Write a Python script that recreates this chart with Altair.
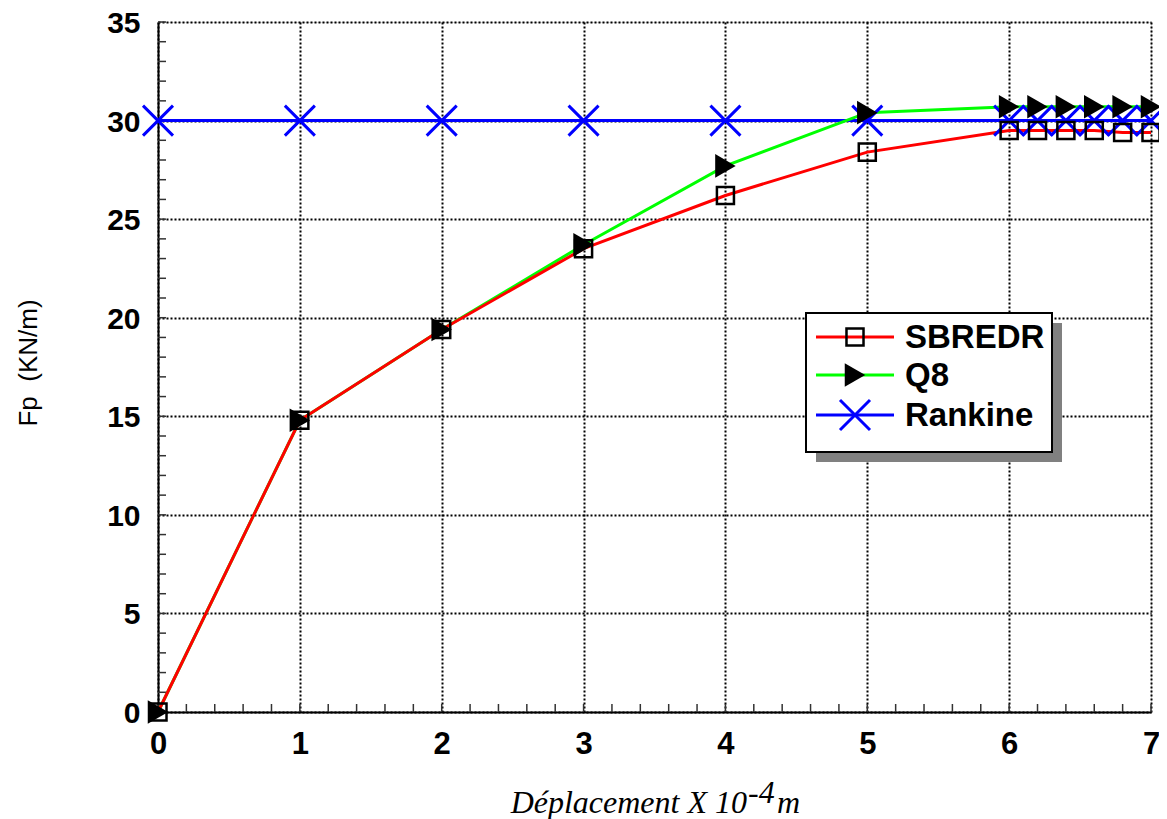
import altair as alt
import pandas as pd

# ---- data ----
deplacement = [0, 1, 2, 3, 4, 5, 6, 6.2, 6.4, 6.6, 6.8, 7]
sbredr = [0, 14.8, 19.4, 23.5, 26.2, 28.4, 29.5, 29.5, 29.5, 29.5, 29.4, 29.4]
q8 = [0, 14.8, 19.4, 23.7, 27.7, 30.4, 30.7, 30.7, 30.7, 30.7, 30.7, 30.7]
rankine = [30, 30, 30, 30, 30, 30, 30, 30, 30, 30, 30, 30]
series_names = ["SBREDR", "Q8", "Rankine"]
x_ticks = [0, 1, 2, 3, 4, 5, 6, 7]
y_ticks = [0, 5, 10, 15, 20, 25, 30, 35]
x_minor = [i / 5 for i in range(0, 36)]
y_minor = list(range(0, 36))

W, H = 993, 690

df_s = pd.DataFrame({"x": deplacement, "y": sbredr})
df_q = pd.DataFrame({"x": deplacement, "y": q8})
df_r = pd.DataFrame({"x": deplacement, "y": rankine})

lab_font = "Liberation Sans"

x_enc = alt.X("x:Q", scale=alt.Scale(domain=[0, 7], nice=False, zero=False),
              axis=alt.Axis(values=x_ticks, title=None, grid=True, ticks=False,
                            labelFont=lab_font, labelFontSize=31, labelFontWeight="bold",
                            labelColor="black", labelPadding=17, labelFlush=False,
                            domain=True, domainColor="black", domainWidth=2,
                            gridColor="black", gridDash=[2, 2], gridWidth=2,
                            format="d"))
y_enc = alt.Y("y:Q", scale=alt.Scale(domain=[0, 35], nice=False, zero=True),
              axis=alt.Axis(values=y_ticks, title=None, grid=True, ticks=False,
                            labelFont=lab_font, labelFontSize=30, labelFontWeight="bold",
                            labelColor="black", labelPadding=18, labelFlush=False,
                            labelOffset=1.5,
                            domain=True, domainColor="black", domainWidth=2,
                            gridColor="black", gridDash=[2, 2], gridWidth=2,
                            format="d"))

layers = []

# minor ticks (inward)
xm = pd.DataFrame({"x": x_minor})
layers.append(alt.Chart(xm).mark_rule(color="#333333", strokeWidth=1.5).encode(
    x=x_enc, y=alt.value(H), y2=alt.value(H - 8)))
ym = pd.DataFrame({"y": y_minor})
layers.append(alt.Chart(ym).mark_rule(color="#333333", strokeWidth=1.5).encode(
    y=y_enc, x=alt.value(0), x2=alt.value(8)))

# lines
layers.append(alt.Chart(df_r).mark_line(color="#0000ff", strokeWidth=3).encode(x=x_enc, y=y_enc))
layers.append(alt.Chart(df_q).mark_line(color="#00ff00", strokeWidth=3).encode(x=x_enc, y=y_enc))
layers.append(alt.Chart(df_s).mark_line(color="#ff0000", strokeWidth=3).encode(x=x_enc, y=y_enc))

cross_path = "M-1,-1L1,1M-1,1L1,-1"
tri_size = 560
layers.append(alt.Chart(df_r).mark_point(shape=cross_path, filled=False, stroke="#0000ff",
                                         strokeWidth=3, size=900, opacity=1).encode(x=x_enc, y=y_enc))
layers.append(alt.Chart(df_q).mark_point(shape="triangle-right", filled=True, color="black",
                                         size=tri_size, opacity=1).encode(x=x_enc, y=y_enc))
layers.append(alt.Chart(df_s).mark_point(shape="square", filled=False, stroke="black",
                                         strokeWidth=2.5, size=290, opacity=1).encode(x=x_enc, y=y_enc))

# legend box with shadow
one = pd.DataFrame({"a": [0]})
bx0, bx1, by0, by1 = 648, 894, 291, 430
layers.append(alt.Chart(one).mark_rect(color="#808080").encode(
    x=alt.value(bx0 + 10), x2=alt.value(bx1 + 10), y=alt.value(by0 + 10), y2=alt.value(by1 + 10)))
layers.append(alt.Chart(one).mark_rect(fill="white", stroke="black", strokeWidth=2).encode(
    x=alt.value(bx0), x2=alt.value(bx1), y=alt.value(by0), y2=alt.value(by1)))

leg_y = [315, 353, 393]
leg_colors = ["#ff0000", "#00ff00", "#0000ff"]
for name, ly, col in zip(series_names, leg_y, leg_colors):
    layers.append(alt.Chart(one).mark_rule(color=col, strokeWidth=3).encode(
        x=alt.value(658), x2=alt.value(736), y=alt.value(ly)))
    layers.append(alt.Chart(one).mark_text(text=name, font=lab_font, fontSize=33, fontWeight="bold",
                                           align="left", baseline="middle", color="black").encode(
        x=alt.value(747), y=alt.value(ly + 1)))
layers.append(alt.Chart(one).mark_point(shape="square", filled=False, stroke="black", strokeWidth=2.5,
                                        size=290, opacity=1).encode(x=alt.value(697), y=alt.value(leg_y[0])))
layers.append(alt.Chart(one).mark_point(shape="triangle-right", filled=True, color="black",
                                        size=tri_size, opacity=1).encode(x=alt.value(697), y=alt.value(leg_y[1])))
layers.append(alt.Chart(one).mark_point(shape=cross_path, filled=False, stroke="#0000ff", strokeWidth=3,
                                        size=900, opacity=1).encode(x=alt.value(697), y=alt.value(leg_y[2])))

# axis titles
layers.append(alt.Chart(one).mark_text(text="Fp\u00a0\u00a0(KN/m)", font=lab_font, fontSize=26, angle=270,
                                       align="center", baseline="middle", color="black").encode(
    x=alt.value(-129), y=alt.value(341)))
layers.append(alt.Chart(one).mark_text(text="Déplacement X 10", font="Liberation Serif", fontSize=32,
                                       fontStyle="italic", align="right", baseline="alphabetic",
                                       color="black").encode(x=alt.value(589), y=alt.value(791)))
layers.append(alt.Chart(one).mark_text(text="-4", font="Liberation Serif", fontSize=32,
                                       fontStyle="italic", align="left", baseline="alphabetic",
                                       color="black").encode(x=alt.value(590), y=alt.value(781)))
layers.append(alt.Chart(one).mark_text(text="m", font="Liberation Serif", fontSize=32,
                                       fontStyle="italic", align="left", baseline="alphabetic",
                                       color="black").encode(x=alt.value(619), y=alt.value(791)))

chart = alt.layer(*layers).properties(
    width=W, height=H,
    autosize=alt.AutoSizeParams(type="none"),
    padding={"left": 150, "top": 14, "right": 8, "bottom": 120},
).configure_view(stroke="black", strokeWidth=2).configure(background="white")

chart.save("out.html", embed_options={"renderer": "svg", "actions": False})
